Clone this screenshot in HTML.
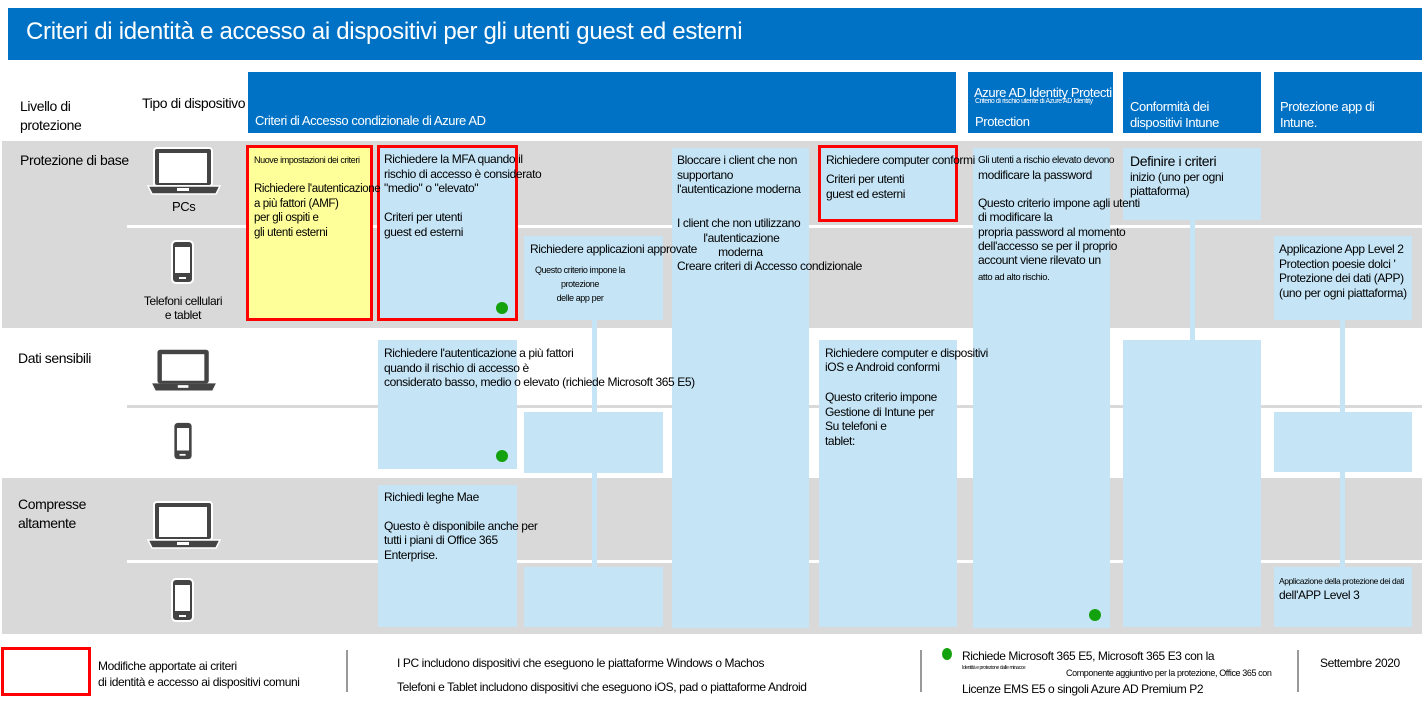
<!DOCTYPE html>
<html><head><meta charset="utf-8"><style>
body{margin:0;width:1426px;height:702px;background:#fff;position:relative;overflow:hidden;font-family:"Liberation Sans",sans-serif;color:#000;}
.a{position:absolute;}
.t{position:absolute;font-size:12px;line-height:15px;letter-spacing:-0.4px;white-space:nowrap;z-index:2;}
.hd{position:absolute;background:#0072C6;color:#fff;}
.lb{position:absolute;background:#c5e4f5;}
.gray{position:absolute;background:#d9d9d9;}
.dot{position:absolute;width:12px;height:12px;border-radius:50%;background:#13a10e;z-index:3;}
.red{position:absolute;border:3px solid #f00;box-sizing:border-box;z-index:1;}
.sep{position:absolute;width:2px;background:#999;}
</style></head><body>
<div class="hd" style="left:8px;top:8px;width:1414px;height:52px;"></div>
<div class="t" style="left:26px;top:18px;font-size:24px;line-height:28px;color:#fff;letter-spacing:-0.3px;">Criteri di identità e accesso ai dispositivi per gli utenti guest ed esterni</div>

<div class="hd" style="left:248px;top:72px;width:708px;height:61px;"></div>
<div class="hd" style="left:968px;top:72px;width:145px;height:61px;"></div>
<div class="hd" style="left:1123px;top:72px;width:138px;height:61px;"></div>
<div class="hd" style="left:1274px;top:72px;width:148px;height:61px;"></div>
<div class="t" style="left:255px;top:113px;color:#fff;font-size:13px;">Criteri di Accesso condizionale di Azure AD</div>
<div class="t" style="left:974px;top:85px;color:#fff;width:138px;overflow:hidden;font-size:13px;">Azure AD Identity Protection</div>
<div class="t" style="left:975px;top:98px;color:#fff;font-size:7px;line-height:8px;width:137px;overflow:hidden;">Criterio di rischio utente di Azure AD Identity</div>
<div class="t" style="left:975px;top:114px;color:#fff;font-size:13px;">Protection</div>
<div class="t" style="left:1130px;top:99px;color:#fff;line-height:16px;font-size:13px;">Conformità dei<br>dispositivi Intune</div>
<div class="t" style="left:1280px;top:99px;color:#fff;line-height:16px;font-size:13px;">Protezione app di<br>Intune.</div>

<div class="t" style="left:20px;top:97px;font-size:14px;line-height:19px;">Livello di<br>protezione</div>
<div class="t" style="left:142px;top:96px;font-size:14px;">Tipo di dispositivo</div>

<div class="gray" style="left:2px;top:141px;width:1420px;height:187px;"></div>
<div class="gray" style="left:2px;top:478px;width:1420px;height:156px;"></div>
<div class="a" style="left:127px;top:225px;width:1295px;height:3px;background:#fff;"></div>
<div class="a" style="left:127px;top:405px;width:1295px;height:3px;background:#d9d9d9;"></div>
<div class="a" style="left:127px;top:560px;width:1295px;height:3px;background:#fff;"></div>

<div class="t" style="left:20px;top:153px;font-size:14px;">Protezione di base</div>
<div class="t" style="left:18px;top:351px;font-size:14px;">Dati sensibili</div>
<div class="t" style="left:18px;top:495px;font-size:14px;line-height:19px;">Compresse<br>altamente</div>

<svg class="a" style="left:146px;top:146px" width="76" height="52" viewBox="0 0 76 52">
<rect x="8" y="2" width="58" height="38" rx="3" fill="#444" stroke="#fff" stroke-width="2"/><rect x="13" y="7" width="48" height="30" fill="#fff"/>
<path d="M2 40 H74 L70 48 H6 Z" fill="#444" stroke="#fff" stroke-width="1.5"/><rect x="31" y="42" width="12" height="3" fill="#fff"/></svg>
<div class="t" style="left:172px;top:199px;font-size:13px;">PCs</div>
<svg class="a" style="left:170px;top:240px" width="26" height="44" viewBox="0 0 26 44"><rect x="2" y="1" width="21" height="42" rx="4" fill="#444" stroke="#fff" stroke-width="2"/><rect x="5" y="7" width="15" height="26" fill="#fff"/><rect x="9" y="37" width="7" height="2" fill="#fff"/></svg>
<div class="t" style="left:140px;top:294px;text-align:center;width:86px;line-height:14px;">Telefoni cellulari<br>e tablet</div>
<svg class="a" style="left:146px;top:348px" width="76" height="46" viewBox="0 0 76 52"><rect x="8" y="2" width="58" height="38" rx="3" fill="#444"/><rect x="13" y="7" width="48" height="30" fill="#fff"/><path d="M2 40 H74 L70 48 H6 Z" fill="#444"/><rect x="31" y="42" width="12" height="3" fill="#fff"/></svg>
<svg class="a" style="left:170px;top:422px" width="26" height="38" viewBox="0 0 26 44"><rect x="3" y="1" width="20" height="42" rx="4" fill="#444"/><rect x="6" y="7" width="14" height="26" fill="#fff"/><rect x="9" y="37" width="7" height="2" fill="#fff"/></svg>
<svg class="a" style="left:146px;top:500px" width="76" height="52" viewBox="0 0 76 52"><rect x="8" y="2" width="58" height="38" rx="3" fill="#444" stroke="#fff" stroke-width="2"/><rect x="13" y="7" width="48" height="30" fill="#fff"/><path d="M2 40 H74 L70 48 H6 Z" fill="#444" stroke="#fff" stroke-width="1.5"/><rect x="31" y="42" width="12" height="3" fill="#fff"/></svg>
<svg class="a" style="left:170px;top:578px" width="26" height="44" viewBox="0 0 26 44"><rect x="2" y="1" width="21" height="42" rx="4" fill="#444" stroke="#fff" stroke-width="2"/><rect x="5" y="7" width="15" height="26" fill="#fff"/><rect x="9" y="37" width="7" height="2" fill="#fff"/></svg>

<div class="a" style="left:248px;top:146px;width:124px;height:174px;background:#ffff99;"></div>
<div class="red" style="left:246px;top:145px;width:127px;height:176px;"></div>
<div class="t" style="left:254px;top:153px;font-size:9px;">Nuove impostazioni dei criteri</div>
<div class="t" style="left:254px;top:182px;line-height:14.5px;font-size:11.5px;">Richiedere l'autenticazione<br>a più fattori (AMF)<br>per gli ospiti e<br>gli utenti esterni</div>

<div class="lb" style="left:378px;top:146px;width:139px;height:174px;"></div>
<div class="red" style="left:377px;top:145px;width:141px;height:176px;"></div>
<div class="t" style="left:384px;top:152px;line-height:14.5px;">Richiedere la MFA quando il<br>rischio di accesso è considerato<br>"medio" o "elevato"</div>
<div class="t" style="left:384px;top:210px;line-height:14.5px;">Criteri per utenti<br>guest ed esterni</div>
<div class="dot" style="left:496px;top:302px;"></div>

<div class="lb" style="left:592px;top:318px;width:5px;height:250px;"></div>
<div class="lb" style="left:524px;top:236px;width:139px;height:84px;"></div>
<div class="t" style="left:530px;top:242px;">Richiedere applicazioni approvate</div>
<div class="t" style="left:530px;top:263px;font-size:9px;line-height:14px;text-align:center;width:100px;">Questo criterio impone la<br>protezione<br>delle app per</div>
<div class="lb" style="left:524px;top:412px;width:139px;height:61px;"></div>
<div class="lb" style="left:524px;top:567px;width:139px;height:60px;"></div>

<div class="lb" style="left:672px;top:148px;width:137px;height:480px;"></div>
<div class="t" style="left:677px;top:153px;line-height:14.5px;">Bloccare i client che non<br>supportano<br>l'autenticazione moderna</div>
<div class="t" style="left:677px;top:216px;line-height:14.5px;">I client che non utilizzano<br>&nbsp;&nbsp;&nbsp;&nbsp;&nbsp;&nbsp;&nbsp;&nbsp;&nbsp;l'autenticazione<br>&nbsp;&nbsp;&nbsp;&nbsp;&nbsp;&nbsp;&nbsp;&nbsp;&nbsp;&nbsp;&nbsp;&nbsp;&nbsp;&nbsp;moderna</div>
<div class="t" style="left:677px;top:259px;">Creare criteri di Accesso condizionale</div>

<div class="lb" style="left:819px;top:146px;width:139px;height:76px;"></div>
<div class="red" style="left:818px;top:145px;width:140px;height:77px;"></div>
<div class="t" style="left:826px;top:153px;">Richiedere computer conformi</div>
<div class="t" style="left:826px;top:172px;line-height:15px;">Criteri per utenti<br>guest ed esterni</div>
<div class="lb" style="left:819px;top:340px;width:138px;height:287px;"></div>
<div class="t" style="left:825px;top:346px;line-height:14px;">Richiedere computer e dispositivi<br>iOS e Android conformi</div>
<div class="t" style="left:825px;top:390px;line-height:14.5px;">Questo criterio impone<br>Gestione di Intune per<br>Su telefoni e<br>tablet:</div>

<div class="lb" style="left:973px;top:148px;width:137px;height:480px;"></div>
<div class="t" style="left:978px;top:153px;font-size:10px;">Gli utenti a rischio elevato devono</div>
<div class="t" style="left:978px;top:168px;">modificare la password</div>
<div class="t" style="left:978px;top:196px;line-height:14.3px;">Questo criterio impone agli utenti<br>di modificare la<br>propria password al momento<br>dell'accesso se per il proprio<br>account viene rilevato un</div>
<div class="t" style="left:978px;top:270px;font-size:9.5px;">atto ad alto rischio.</div>
<div class="dot" style="left:1089px;top:609px;"></div>

<div class="lb" style="left:1190px;top:218px;width:5px;height:124px;"></div>
<div class="lb" style="left:1123px;top:148px;width:138px;height:72px;"></div>
<div class="t" style="left:1130px;top:154px;font-size:14px;">Definire i criteri</div>
<div class="t" style="left:1130px;top:170px;line-height:14px;">inizio (uno per ogni<br>piattaforma)</div>
<div class="lb" style="left:1123px;top:340px;width:138px;height:287px;"></div>

<div class="lb" style="left:1340px;top:318px;width:5px;height:250px;"></div>
<div class="lb" style="left:1274px;top:236px;width:138px;height:84px;"></div>
<div class="t" style="left:1279px;top:242px;line-height:14.5px;">Applicazione App Level 2<br>Protection poesie dolci '<br>Protezione dei dati (APP)<br>(uno per ogni piattaforma)</div>
<div class="lb" style="left:1274px;top:412px;width:138px;height:60px;"></div>
<div class="lb" style="left:1274px;top:567px;width:138px;height:60px;"></div>
<div class="t" style="left:1279px;top:574px;font-size:8.5px;">Applicazione della protezione dei dati</div>
<div class="t" style="left:1279px;top:588px;">dell'APP Level 3</div>

<div class="lb" style="left:378px;top:340px;width:139px;height:129px;"></div>
<div class="t" style="left:384px;top:346px;line-height:14.5px;">Richiedere l'autenticazione a più fattori<br>quando il rischio di accesso è<br>considerato basso, medio o elevato (richiede Microsoft 365 E5)</div>
<div class="dot" style="left:496px;top:450px;"></div>
<div class="lb" style="left:378px;top:485px;width:139px;height:142px;"></div>
<div class="t" style="left:384px;top:490px;">Richiedi leghe Mae</div>
<div class="t" style="left:384px;top:519px;line-height:14.3px;">Questo è disponibile anche per<br>tutti i piani di Office 365<br>Enterprise.</div>

<div class="red" style="left:1px;top:647px;width:90px;height:49px;"></div>
<div class="t" style="left:98px;top:658px;line-height:16px;">Modifiche apportate ai criteri<br>di identità e accesso ai dispositivi comuni</div>
<div class="sep" style="left:346px;top:650px;height:42px;"></div>
<div class="t" style="left:397px;top:656px;">I PC includono dispositivi che eseguono le piattaforme Windows o Machos</div>
<div class="t" style="left:397px;top:680px;">Telefoni e Tablet includono dispositivi che eseguono iOS, pad o piattaforme Android</div>
<div class="sep" style="left:920px;top:650px;height:42px;"></div>
<div class="dot" style="left:942px;top:648px;width:10px;height:12px;"></div>
<div class="t" style="left:962px;top:649px;">Richiede Microsoft 365 E5, Microsoft 365 E3 con la</div>
<div class="t" style="left:962px;top:665px;font-size:5px;line-height:6px;">Identità e protezione dalle minacce</div>
<div class="t" style="left:1066px;top:666px;font-size:9px;">Componente aggiuntivo per la protezione, Office 365 con</div>
<div class="t" style="left:962px;top:682px;">Licenze EMS E5 o singoli Azure AD Premium P2</div>
<div class="sep" style="left:1297px;top:650px;height:42px;"></div>
<div class="t" style="left:1320px;top:656px;">Settembre 2020</div>
</body></html>
